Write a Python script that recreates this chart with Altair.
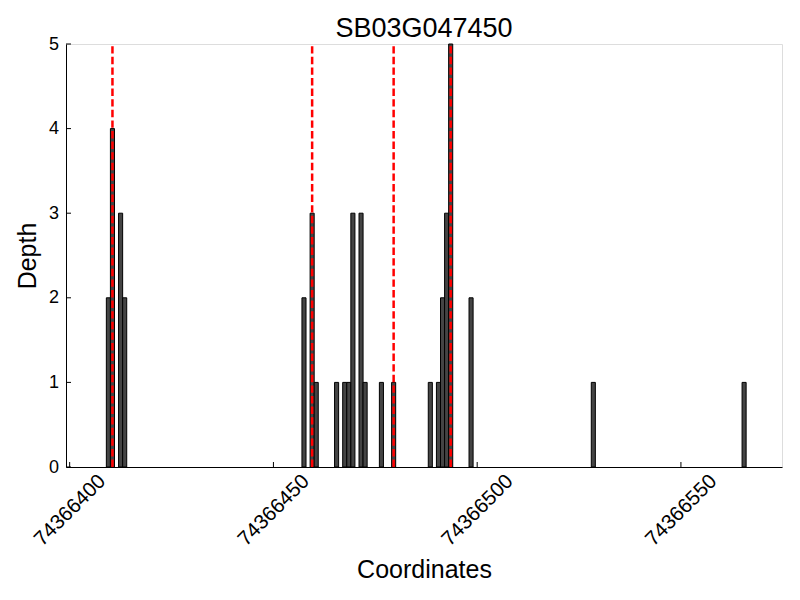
import altair as alt
import pandas as pd

# ---- data ----
positions = [74366409, 74366410, 74366412, 74366413,
             74366457, 74366459, 74366460,
             74366465, 74366467, 74366468, 74366469, 74366471, 74366472,
             74366476, 74366479,
             74366488, 74366490, 74366491, 74366492, 74366493,
             74366498, 74366528, 74366565]
depths = [2, 4, 3, 2,
          2, 3, 1,
          1, 1, 1, 3, 3, 1,
          1, 1,
          1, 1, 2, 3, 5,
          2, 1, 1]
snp_positions = [74366410, 74366459, 74366479, 74366493]
x_ticks = [74366400, 74366450, 74366500, 74366550]
y_ticks = [0, 1, 2, 3, 4, 5]
title_text = "SB03G047450"
x_title = "Coordinates"
y_title = "Depth"

x_domain = [74366399.1, 74366574.8]
y_domain = [0, 5]

W, H = 716, 423
FONT = "Liberation Sans"

bars_df = pd.DataFrame({"pos": positions, "depth": depths})
snp_df = pd.DataFrame({"pos": snp_positions})
xt_df = pd.DataFrame({"t": x_ticks})
yt_df = pd.DataFrame({"t": y_ticks})

xscale = alt.Scale(domain=x_domain, nice=False, zero=False)
yscale = alt.Scale(domain=y_domain, nice=False)

xaxis = alt.Axis(values=x_ticks, format="d", labelAngle=315, labelAlign="center",
                 labelBaseline="middle", labelPadding=43, labelFontSize=20.5,
                 labelFlush=False, labelOverlap=False, ticks=False, tickSize=0,
                 grid=False, domainColor="black", domainWidth=1,
                 titleFontSize=25, titleFontWeight="normal", titleX=W / 2, titleY=110,
                 titleAlign="center", titleBaseline="alphabetic", titleAngle=0)
yaxis = alt.Axis(values=y_ticks, format="d", labelPadding=7.5, labelFontSize=18,
                 ticks=False, tickSize=0, grid=False, domainColor="black", domainWidth=1,
                 labelFlush=False,
                 titleFontSize=25, titleFontWeight="normal", titleX=-31, titleY=H / 2,
                 titleAlign="center", titleBaseline="alphabetic", titleAngle=270)

bars = alt.Chart(bars_df).transform_calculate(
    end="datum.pos + 1"
).mark_bar(fill="#444444", stroke="black", strokeWidth=1, opacity=1).encode(
    x=alt.X("pos:Q", scale=xscale, axis=xaxis, title=x_title),
    x2="end:Q",
    y=alt.Y("depth:Q", scale=yscale, axis=yaxis, title=y_title),
    y2=alt.datum(0),
)

snp = alt.Chart(snp_df).transform_calculate(
    mid="datum.pos + 0.5"
).mark_rule(color="#ff0000", strokeWidth=2.5, strokeDash=[7.4, 3.2]).encode(
    x=alt.X("mid:Q", scale=xscale, title=x_title),
    y=alt.datum(0),
    y2=alt.datum(5),
)

xticks_layer = alt.Chart(xt_df).mark_rule(color="black", strokeWidth=1).encode(
    x=alt.X("t:Q", scale=xscale, title=x_title),
    y=alt.value(H),
    y2=alt.value(H - 5),
)

yticks_layer = alt.Chart(yt_df).mark_rule(color="black", strokeWidth=1).encode(
    y=alt.Y("t:Q", scale=yscale, title=y_title),
    x=alt.value(0),
    x2=alt.value(5),
)

chart = alt.layer(bars, snp, xticks_layer, yticks_layer).properties(
    width=W, height=H,
    title=alt.Title(title_text, fontSize=27, font=FONT, fontWeight="normal",
                    anchor="middle", frame="group", baseline="alphabetic", offset=-29),
    padding={"left": 58, "top": 36, "right": 10, "bottom": 125},
    autosize=alt.AutoSizeParams(type="none"),
).configure_view(stroke=None).configure_axis(
    labelFont=FONT, titleFont=FONT, labelColor="black", titleColor="black"
).configure(background="white")

chart.save("out.html", embed_options={"renderer": "svg", "actions": False})
